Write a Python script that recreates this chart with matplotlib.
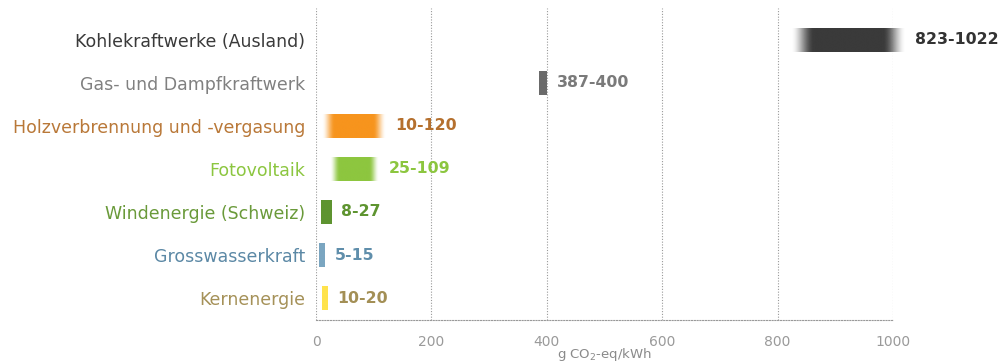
import matplotlib
matplotlib.use("Agg")
import matplotlib.pyplot as plt
import matplotlib.colors as mcolors
import numpy as np

plt.rcParams['font.family'] = ['DejaVu Sans']

# data
categories = ["Kohlekraftwerke (Ausland)", "Gas- und Dampfkraftwerk",
              "Holzverbrennung und -vergasung", "Fotovoltaik",
              "Windenergie (Schweiz)", "Grosswasserkraft", "Kernenergie"]
low = [823, 387, 10, 25, 8, 5, 10]
high = [1022, 400, 120, 109, 27, 15, 20]
value_labels = ["823-1022", "387-400", "10-120", "25-109", "8-27", "5-15", "10-20"]
xticks = [0, 200, 400, 600, 800, 1000]

# style
bar_colors = ["#3a3a3a", "#6b6b6b", "#f7941d", "#8dc63f", "#5e9430", "#7ba6c1", "#ffe34d"]
label_colors = ["#333333", "#7a7a7a", "#b5702e", "#8cc63f", "#5e9430", "#5f8eab", "#a38f55"]
cat_colors = ["#3a3a3a", "#808080", "#b97838", "#8cc640", "#6a9a3a", "#5b88a5", "#a59158"]
fuzzy = [True, False, True, True, False, False, False]

fig = plt.figure(figsize=(10.01, 3.64), dpi=100)
ax = fig.add_axes([0.3157, 0.1209, 0.5764, 0.857])

h = 0.55
for i in range(len(categories)):
    lo, hi = low[i], high[i]
    rgb = mcolors.to_rgb(bar_colors[i])
    n = 300
    xs = np.linspace(lo, hi, n)
    if fuzzy[i]:
        fade = 0.2 * (hi - lo)
        a = np.clip(np.minimum((xs - lo) / fade, (hi - xs) / fade), 0, 1)
        a = a * a * (3 - 2 * a)
    else:
        a = np.ones(n)
    img = np.zeros((1, n, 4))
    img[0, :, :3] = rgb
    img[0, :, 3] = a
    ax.imshow(img, extent=(lo, hi, i + h / 2, i - h / 2), aspect='auto',
              interpolation='bilinear', zorder=3, clip_on=False)
    ax.annotate(value_labels[i], (hi, i), xytext=(7, 0), textcoords='offset points',
                va='center', ha='left', fontsize=11.3, fontweight='bold',
                color=label_colors[i], annotation_clip=False)

ax.set_xlim(0, 1000)
ax.set_ylim(len(categories) - 1 + 0.51, -0.74)
ax.set_yticks(range(len(categories)))
ax.set_yticklabels(categories, fontsize=12.5)
for t, c in zip(ax.get_yticklabels(), cat_colors):
    t.set_color(c)
ax.set_xticks(xticks)
ax.set_xticklabels([str(x) for x in xticks], fontsize=10, color="#9a9a9a")
ax.tick_params(axis='both', length=0)
ax.tick_params(axis='x', pad=11)
ax.tick_params(axis='y', pad=8)

for s in ['top', 'right', 'left']:
    ax.spines[s].set_visible(False)
ax.spines['bottom'].set_linestyle((0, (1, 1.5)))
ax.spines['bottom'].set_color("#999999")
ax.spines['bottom'].set_linewidth(0.8)
ax.grid(axis='x', linestyle=(0, (1, 1.5)), color="#999999", linewidth=0.8, zorder=0)

ax.set_xlabel("g CO$_2$-eq/kWh", fontsize=9.5, color="#8a8a8a", labelpad=-2)

fig.savefig("out.png", dpi=100)
